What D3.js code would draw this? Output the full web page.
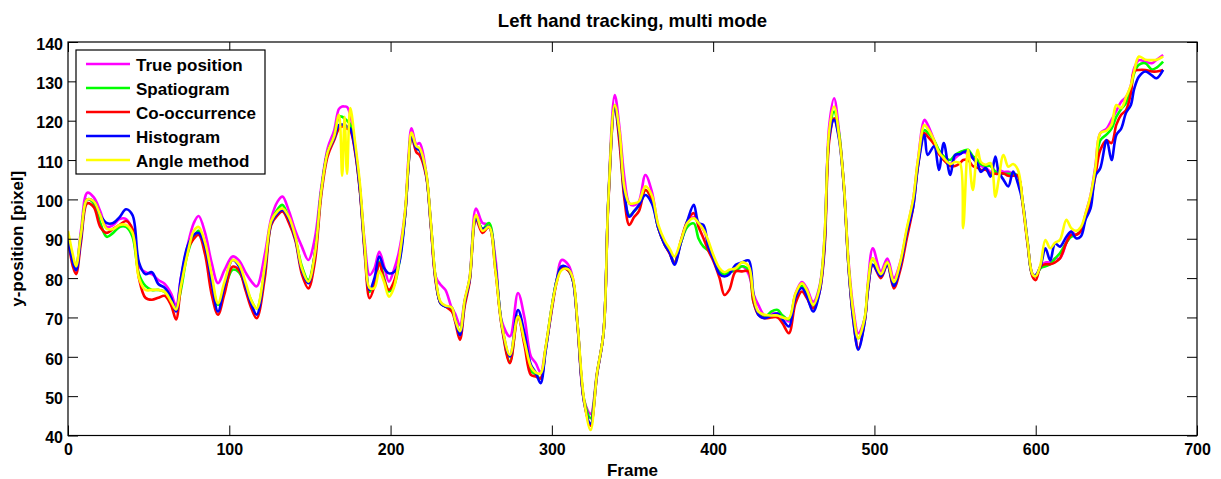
<!DOCTYPE html>
<html>
<head>
<meta charset="utf-8">
<script src="https://cdn.jsdelivr.net/npm/d3@7"></script>
<style>
  html, body { margin: 0; padding: 0; background: #fff; }
  svg { display: block; font-family: "Liberation Sans", Arial, Helvetica, sans-serif; font-weight: bold; }
</style>
</head>
<body>
<svg id="chart" width="1221" height="479"></svg>
<script>
// ---- data ----
const frames = [0,3,5,8,12,16,20,24,28,32,36,40,44,48,52,56,60,64,67,70,74,78,81,85,89,93,97,102,106,110,114,117,122,126,130,133,137,141,145,149,153,157,161,165,168,170,171.5,173,175,178,181,184,187,190,193,196,199,202,205,209,211,213,216,218,222,225,228,231,234,238,240,243,246,249,253,257,261,265,269,274,279,283,287,290,293,296,300,303,306,310,313,316,320,324,328,332,335,339,342,345,348,351,354,358,362,366,370,373,376,380,384,388,391,394,397,400,404,407,410,414,418,422,425,428,432,436,440,443,447,451,455,458,462,466,469,472,475,478,481,484,487,490,494,496,499,504,508,512,516,520,524,527,531,533,537,540,543,547,550,553,555,558,561,564,566,569,572,575,577,580,583,586,589,592,595,598,600,603,606,609,612,615,619,622,625,628,631,634,637,640,644,647,650,653,656,659,661,664,668,672,675,679];

const truePosition = [91,85,83,92,101.7,100.5,97,93,93.5,95,95,92,83,81.5,81,79.5,78.5,76,73,80,88,94,95.8,91.5,84,78.7,82,85.5,84.5,81.5,79,77.9,86,95.2,99.5,100.7,97,92,88,84.6,90,103,113,117.5,123,123.6,123.6,123.5,121.5,113.5,103,89,80.8,82.5,86.7,83,79.1,82,86.3,97,110,118.1,114,114.3,107,94,80.4,78.3,77,72.3,71,68,74.5,80,97.7,94,93.5,85,69,65.2,76.2,70,60.1,58.4,56,62,72.8,79.5,84.6,83.5,80,68,49,45.5,56,66,100,126.5,118,105.4,99,98.5,99.5,106.2,102,93,88.5,86.5,84,89,94,95.5,94,92.3,89,85.5,82,80.8,81.5,82,83,81,76,73.2,70.5,71,71,70.5,69,76,79,77.5,74,78,90,118.9,125.7,117.5,104,84,72,66,69.8,79,87.6,81.7,85,80,84,92,100,110,120.2,119,115,112,110.5,109,110.5,111.5,112,111.5,110.5,109,108.5,108,107,107,107.5,107,107,106.5,106,99,89,81,80.5,83,84,84,85,85,89,91.8,91,92,96.5,101,108.5,116.8,118,120.2,122.5,124.8,126,129,133.3,135.4,135,134.6,135.5,136.7];

const spatiogram = [90,85,83,91,100,99,94,90.5,91.5,93,93,90.5,81,78,77,77,76.5,74,72,77,86,90.5,92,88,80,73.2,77,82.1,81.5,78,74,72.3,82,94,97.5,98.6,95,90,83,79.5,86,102,112,116,121,121,120.5,120,119,112.6,102.4,87.2,76.5,79,84.2,80,76.6,78,83,96,108,116,113,112.5,106.5,93.5,79.5,73.6,72.8,72,69.5,66.4,74,79.5,95.5,92.5,94,83,68,58.8,70.2,64,56.5,55.5,54.5,61.8,72.8,79.5,83,82,79.5,67.7,49,44.4,55.8,66,99.9,124,115,101,96,97,98.5,102.4,100,92.7,88.5,86.5,84,89,93,93.9,90,88,87,85,81.5,81,81.5,82,83,82,74,71,70,71.5,71.9,70.5,69.5,75.5,78,76.5,73,77.5,89,116.5,122.3,117,103.7,83,70,64.7,69.8,78,85,80.5,84,78.3,83,91.5,99,109,117.6,117,115,112.5,111,110,111.3,112,112.3,112.6,111,110,109,108.5,108.5,107,106.5,106.5,106.5,106.5,106,99,89,80.8,80.5,82.5,83,83.5,85,86.3,89,90.5,91,92,96.1,100.3,107.5,115,116.5,118,121,123,124.5,128,132,134.2,134.6,133,133.5,135];

const cooccurrence = [90,83,81,89,99,98,93,91.5,92.5,93.5,94.5,92.5,80,75,74.5,75,75.5,73,69.5,78,87,90,91,86,76,70.7,76,82.9,82,77,72,69.8,80,93.5,96,96.9,94,89.5,81,77.4,84,101,111,115,118,118.5,118.5,118,117.5,112,102,86,74.9,78,83.8,79.5,77,79,84,96,108,116,112,111.3,106,93,79,73.6,72.8,71.5,69,64.3,73,79,94.8,91.5,93,82,67.5,58.4,70.2,63,55.4,55,54.5,61.5,72,79,82.5,82,79.5,67.5,48.5,42.5,55.5,66,99,123.5,114,100,93.5,95.5,97,102.4,100,92.7,88.5,86.3,83.8,89.5,94.5,96.5,93,90.1,87,84.5,80,75.7,77,81.7,81.7,81.7,74,70.7,69.8,70,70,68.5,66,73.5,76.6,75,72.3,76.5,87,115,120.6,116,103.5,82.5,69,62.2,69,77,83.4,80,83.4,77.4,82,90,98,108.5,116.8,116,114,111.5,110,108.5,108.5,109.2,110,110,108.5,108,107.5,107.5,106.5,106.5,106.5,106.6,106,106,106,98.5,88.5,80.4,79.5,82.9,83.5,83.5,84,85,89,91,91,92,95.5,99.5,106,112.5,115,114.3,119,121.5,122.7,127,132.5,132.9,132.9,132.5,132.5,132.9];

const histogram = [90,84,82,90,100,99.5,96,94,94,95.5,97.5,96,84,81,81.5,78.5,77.5,75,71.5,80,88,91,91.5,88,79,71.5,78,84.6,83,78,73,70.7,82,94,96.5,97.3,95,90,82,78.7,86,102,112,115.5,118.9,119,119,118.5,118,112.6,102.4,87,77,80,85.5,82.5,81.2,81.5,83.4,96,108,116,113,112.5,106.5,93.5,79.5,73.6,72.8,72.5,69.5,65.5,74,79.5,95,92.5,93,83,68,60.1,71.9,66,58,56,53.3,61,72.5,79.5,83,82.5,79.5,67.7,48.5,43,55.5,66,99.5,123,116,101.5,95.6,97,98.5,101.1,99,92.7,88.5,86.5,83.4,89,94.5,98.6,94,93.5,88,85,81,80.4,81,83.4,84,84.5,76,70.7,69.8,70.5,71,69.5,67.7,75,77.5,75.5,71.5,76.5,88,116,120.2,115.5,103.5,82.5,69,61.8,69,77,83.4,80.5,83.4,78,83,91.5,98,108.5,116.4,111.3,113.5,107.5,114.3,106.2,111.3,111.5,112,112.2,110.5,109,107,108,105.8,110.9,107,105,103.3,107.1,104,99,89,81,80.8,83,87.6,84.5,88.8,88,90.5,91.8,90.1,90.6,95,97.7,106,107.9,115.1,110,116.4,118,122,124,128,131.2,132.5,131.5,130.8,132.9];

const angleMethod = [92,86,83,91,100,99.5,96,92.5,92.5,93.5,93.5,91.5,80,77,77,77,76.5,74,72,78,86,92,93,89,81,73.6,79,84.6,83.5,79,74,72.3,83,94.5,97,97.7,95.5,90.5,82.5,79.1,86,102,112,116,121.5,106,121,106.5,123.2,114.5,104,88,77.5,77.5,81.7,79,75.3,77.5,84,97,109,117,113.5,113,107,94,80,74,73,72.5,69.5,66.5,74.5,80,96,92,93,82,68,60.5,70.2,64,57.5,56,55.8,62,72.8,79,82,82.3,80,68,49,41.4,55.8,66,99.5,124,117,103,99,99,99.5,103.3,101,93.5,89.5,87.5,85.5,89.5,94,95.2,94,92.3,89.5,86,82.5,81.5,82.1,82.5,84,83,75.5,71.5,70.7,70.5,70.5,70,69.8,76,78.7,77,73.2,77.5,90,117.5,123.6,116.4,104,83.5,71,64.7,70,78.5,85,81,84,79,84,92.5,100,110,118.9,118,115,112,110.5,109,109.5,109.2,92.7,112.6,102.4,112.6,109.5,108.8,109.2,100.7,105,111.3,108.3,109,107.5,99,89,81,80.5,83.5,89.7,87.6,89,89.7,94.8,92.7,92,93,96.5,101,108,116.8,117.5,119,124,123.2,126,129,132.5,136.3,135.5,135.4,135.5,136.3];

const seriesNames = ["True position", "Spatiogram", "Co-occurrence", "Histogram", "Angle method"];
const seriesColors = ["#ff00ff", "#00ff00", "#ff0000", "#0000ff", "#ffff00"];
const seriesValues = [truePosition, spatiogram, cooccurrence, histogram, angleMethod];

const xTicks = [0,100,200,300,400,500,600,700];
const yTicks = [40,50,60,70,80,90,100,110,120,130,140];
const titleText = "Left hand tracking, multi mode";
const xLabel = "Frame";
const yLabel = "y-position [pixel]";

// ---- layout ----
const L = 68, R = 1197, T = 42, B = 435.5;
const svg = d3.select("#chart");
const x = d3.scaleLinear().domain([0, 700]).range([L, R]);
const y = d3.scaleLinear().domain([40, 140]).range([B, T]);

svg.append("defs").append("clipPath").attr("id", "clip")
  .append("rect").attr("x", L).attr("y", T).attr("width", R - L).attr("height", B - T);

// lines
const line = d3.line().x(d => x(d[0])).y(d => y(d[1])).curve(d3.curveCatmullRom.alpha(0.5));
const gLines = svg.append("g").attr("clip-path", "url(#clip)");
seriesValues.forEach((vals, i) => {
  gLines.append("path")
    .datum(frames.map((f, k) => [f, vals[k]]))
    .attr("d", line)
    .attr("fill", "none")
    .attr("stroke", seriesColors[i])
    .attr("stroke-width", 2.6)
    .attr("stroke-linejoin", "round");
});

// axes (MATLAB-style inward ticks)
const fontSize = 16;
const axB = svg.append("g").attr("transform", `translate(0,${B})`)
  .call(d3.axisBottom(x).tickValues(xTicks).tickSizeInner(-10).tickSizeOuter(0).tickPadding(8.5));
const axL = svg.append("g").attr("transform", `translate(${L},0)`)
  .call(d3.axisLeft(y).tickValues(yTicks).tickSizeInner(-10).tickSizeOuter(0).tickPadding(5));
const axT = svg.append("g").attr("transform", `translate(0,${T})`)
  .call(d3.axisTop(x).tickValues(xTicks).tickSizeInner(-10).tickSizeOuter(0).tickFormat(""));
const axR = svg.append("g").attr("transform", `translate(${R},0)`)
  .call(d3.axisRight(y).tickValues(yTicks).tickSizeInner(-10).tickSizeOuter(0).tickFormat(""));
[axB, axL, axT, axR].forEach(a => {
  a.select(".domain").remove();
  a.selectAll(".tick line").attr("stroke", "#000").attr("stroke-width", 1);
  a.selectAll("text").attr("fill", "#000").style("font-size", fontSize + "px")
    .style("font-family", '"Liberation Sans", Arial, sans-serif').style("font-weight", "bold");
});
axL.selectAll("text").attr("dy", "0.45em");

// box
svg.append("rect").attr("x", L).attr("y", T).attr("width", R - L).attr("height", B - T)
  .attr("fill", "none").attr("stroke", "#000").attr("stroke-width", 1.2);

// title and axis labels
svg.append("text").attr("x", (L + R) / 2).attr("y", 27).attr("text-anchor", "middle")
  .style("font-size", "18.5px").text(titleText);
svg.append("text").attr("x", (L + R) / 2).attr("y", 475.5).attr("text-anchor", "middle")
  .style("font-size", "17px").text(xLabel);
svg.append("text").attr("transform", `translate(23,${(T + B) / 2}) rotate(-90)`)
  .attr("text-anchor", "middle").style("font-size", "17px").text(yLabel);

// legend
const lg = svg.append("g");
lg.append("rect").attr("x", 76).attr("y", 50).attr("width", 189).attr("height", 124)
  .attr("fill", "#fff").attr("stroke", "#000").attr("stroke-width", 1.2);
seriesNames.forEach((name, i) => {
  const ry = 64 + i * 24;
  lg.append("line").attr("x1", 86).attr("x2", 130).attr("y1", ry).attr("y2", ry)
    .attr("stroke", seriesColors[i]).attr("stroke-width", 2.6);
  lg.append("text").attr("x", 136).attr("y", ry + 7).style("font-size", "17px").text(name);
});
</script>
</body>
</html>
